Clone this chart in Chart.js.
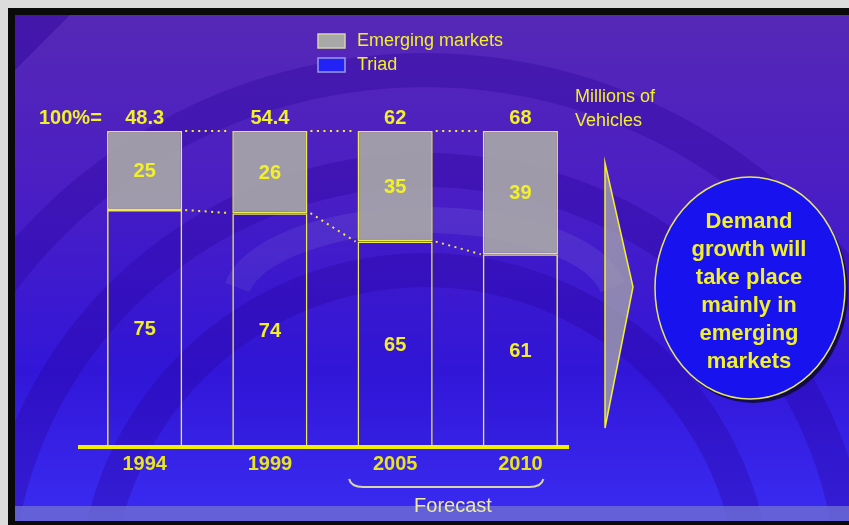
<!DOCTYPE html>
<html>
<head>
<meta charset="utf-8">
<title>Vehicle demand by region</title>
<script src="https://cdn.jsdelivr.net/npm/chart.js@4.4.1/dist/chart.umd.min.js"></script>
<style>
  html, body { margin: 0; padding: 0; background: #dcdcdc; }
  canvas { display: block; }
</style>
</head>
<body>
<canvas id="chart-demand" width="849" height="525"></canvas>
<script>
var years = ['1994', '1999', '2005', '2010'];
var totals = ['48.3', '54.4', '62', '68'];
var emergingShare = [25, 26, 35, 39];
var triadShare = [75, 74, 65, 61];
var unitLines = ['Millions of', 'Vehicles'];
var calloutLines = ['Demand', 'growth will', 'take place', 'mainly in', 'emerging', 'markets'];

var YELLOW = '#f2f02a';
var FONT = '"Liberation Sans", Arial, sans-serif';

// slide background: frame, gradient and the faint logo swirls
var backdrop = {
  id: 'backdrop',
  beforeDraw: function(chart) {
    var c = chart.ctx;
    c.save();
    c.fillStyle = '#dcdcdc';
    c.fillRect(0, 0, 849, 525);
    c.fillStyle = '#0a0a0a';
    c.fillRect(8, 8, 841, 517);
    var g = c.createLinearGradient(0, 15, 0, 521);
    g.addColorStop(0, '#5628b6');
    g.addColorStop(0.35, '#4a1ec4');
    g.addColorStop(0.7, '#3216d8');
    g.addColorStop(1, '#3a2cf2');
    c.fillStyle = g;
    c.fillRect(15, 15, 834, 506);

    c.beginPath();
    c.rect(15, 15, 834, 506);
    c.clip();
    c.strokeStyle = 'rgba(40,0,150,0.3)';
    c.lineWidth = 34;
    [[425, 600, 330], [425, 600, 430], [425, 600, 530]].forEach(function(a) {
      c.beginPath();
      c.arc(a[0], a[1], a[2], Math.PI * 1.05, Math.PI * 1.95);
      c.stroke();
    });
    c.fillStyle = 'rgba(40,0,150,0.4)';
    c.beginPath();
    c.moveTo(15, 15); c.lineTo(70, 15); c.lineTo(15, 70); c.closePath();
    c.fill();
    c.strokeStyle = 'rgba(170,170,230,0.12)';
    c.lineWidth = 26;
    c.beginPath();
    c.ellipse(425, 300, 190, 80, 0, Math.PI * 1.05, Math.PI * 1.95);
    c.stroke();

    c.fillStyle = 'rgba(110,110,210,0.8)';
    c.fillRect(15, 506, 834, 15);
    c.fillStyle = '#222';
    c.fillRect(0, 521, 849, 4);
    c.restore();
  }
};

// axis rule, totals, segment values, connectors, legend and side notes
var annotations = {
  id: 'annotations',
  afterDatasetsDraw: function(chart) {
    var c = chart.ctx;
    var triadMeta = chart.getDatasetMeta(0);
    var emergMeta = chart.getDatasetMeta(1);
    var area = chart.chartArea;
    c.save();

    // dotted connectors between bar tops and between segment splits
    c.strokeStyle = YELLOW;
    c.lineWidth = 2;
    c.setLineDash([2, 4.5]);
    for (var i = 0; i < years.length - 1; i++) {
      var a = emergMeta.data[i], b = emergMeta.data[i + 1];
      c.beginPath();
      c.moveTo(a.x + a.width / 2 + 3, a.y);
      c.lineTo(b.x - b.width / 2 - 2, b.y);
      c.stroke();
      c.beginPath();
      c.moveTo(a.x + a.width / 2 + 3, a.base);
      c.lineTo(b.x - b.width / 2 - 2, b.base);
      c.stroke();
    }
    c.setLineDash([]);

    // x axis rule
    c.fillStyle = '#f0f000';
    c.fillRect(78, area.bottom - 2, 491, 4);

    // segment values
    c.fillStyle = YELLOW;
    c.textAlign = 'center';
    c.textBaseline = 'middle';
    c.font = 'bold 20px ' + FONT;
    [triadMeta, emergMeta].forEach(function(meta, d) {
      meta.data.forEach(function(bar, j) {
        c.fillText(String(chart.data.datasets[d].data[j]), bar.x, (bar.y + bar.base) / 2 + 1);
      });
    });

    // totals above bars
    emergMeta.data.forEach(function(bar, j) {
      c.fillText(totals[j], bar.x, bar.y - 13);
    });
    c.textAlign = 'left';
    c.fillText('100%=', 39, emergMeta.data[0].y - 13);

    // units note
    c.font = '18px ' + FONT;
    unitLines.forEach(function(t, k) {
      c.fillText(t, 575, 97 + k * 24);
    });

    // legend, top series first
    var items = chart.data.datasets.slice().reverse();
    items.forEach(function(ds, k) {
      var y = 34 + k * 24;
      c.fillStyle = ds.legendColor;
      c.fillRect(318, y, 27, 14);
      c.strokeStyle = ds.legendEdge;
      c.lineWidth = 1.5;
      c.strokeRect(318, y, 27, 14);
      c.fillStyle = YELLOW;
      c.font = '18px ' + FONT;
      c.fillText(ds.label, 357, y + 7);
    });

    // forecast brace under the last two bars
    var f0 = emergMeta.data[2], f1 = emergMeta.data[3];
    var bx0 = f0.x - 46, bx1 = f1.x + 23;
    c.strokeStyle = '#d8d8a8';
    c.lineWidth = 2;
    c.beginPath();
    c.moveTo(bx0, 479);
    c.quadraticCurveTo(bx0 + 2, 487, bx0 + 14, 487);
    c.lineTo(bx1 - 14, 487);
    c.quadraticCurveTo(bx1 - 2, 487, bx1, 479);
    c.stroke();
    c.fillStyle = '#ecec9a';
    c.font = '20px ' + FONT;
    c.textAlign = 'center';
    c.fillText('Forecast', 453, 506);

    // arrow
    c.beginPath();
    c.moveTo(605, 163);
    c.lineTo(633, 287);
    c.lineTo(605, 428);
    c.closePath();
    c.fillStyle = 'rgba(170,170,170,0.75)';
    c.fill();
    c.strokeStyle = YELLOW;
    c.lineWidth = 1.5;
    c.stroke();

    // callout bubble
    c.fillStyle = 'rgba(10,10,40,0.8)';
    c.beginPath();
    c.ellipse(753, 292, 95, 111, 0, 0, Math.PI * 2);
    c.fill();
    c.fillStyle = '#1812ee';
    c.beginPath();
    c.ellipse(750, 288, 95, 111, 0, 0, Math.PI * 2);
    c.fill();
    c.strokeStyle = '#e6e66a';
    c.lineWidth = 1.5;
    c.stroke();
    c.fillStyle = YELLOW;
    c.font = 'bold 22px ' + FONT;
    calloutLines.forEach(function(t, k) {
      c.fillText(t, 749, 222 + k * 28);
    });

    c.restore();
  }
};

new Chart(document.getElementById('chart-demand').getContext('2d'), {
  type: 'bar',
  data: {
    labels: years,
    datasets: [
      {
        label: 'Triad',
        data: triadShare,
        backgroundColor: 'rgba(40,20,200,0.12)',
        borderColor: '#ecec50',
        borderWidth: 1.5,
        borderSkipped: false,
        barPercentage: 0.6,
        categoryPercentage: 1,
        legendColor: '#2222f6',
        legendEdge: '#9a9ae6'
      },
      {
        label: 'Emerging markets',
        data: emergingShare,
        backgroundColor: 'rgba(168,168,168,0.9)',
        borderColor: '#ecec50',
        borderWidth: 1.5,
        borderSkipped: false,
        barPercentage: 0.6,
        categoryPercentage: 1,
        legendColor: '#a8a8a8',
        legendEdge: '#d4d4a4'
      }
    ]
  },
  options: {
    responsive: false,
    animation: false,
    layout: { padding: { left: 82, right: 266, top: 131, bottom: 0 } },
    plugins: {
      legend: { display: false },
      tooltip: { enabled: false }
    },
    scales: {
      x: {
        stacked: true,
        grid: { display: false, drawTicks: false },
        border: { display: false },
        ticks: { color: '#e8e41e', padding: 5, font: { family: FONT, size: 20, weight: 'bold' } },
        afterFit: function(scale) { scale.height = 78; }
      },
      y: {
        stacked: true,
        display: false,
        min: 0,
        max: 100
      }
    }
  },
  plugins: [backdrop, annotations]
});
</script>
</body>
</html>
